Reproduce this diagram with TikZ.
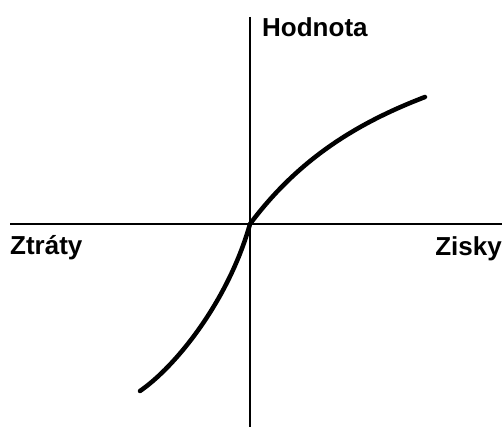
\documentclass[tikz,border=0pt]{standalone}
\usepackage{fontspec}
\setmainfont{Liberation Sans}
\usepackage{tikz}
\tikzset{
  every picture/.style={line cap=round, line join=round},
  lbl/.style={font=\bfseries\fontsize{26}{30}\selectfont, text=black, inner sep=0pt},
  axisline/.style={black, line width=2pt, line cap=butt},
  valuecurve/.style={black, line width=4.5pt},
}

\begin{document}
\begin{tikzpicture}[x=1pt, y=1pt]
\useasboundingbox (0,0) rectangle (504,427);
% axes
\coordinate (xl) at (10,203);
\coordinate (xr) at (502,203);
\coordinate (yt) at (250,410);
\coordinate (yb) at (250,0);
\coordinate (o) at (250,203);
\draw[axisline] (xl) -- (xr);
\draw[axisline] (yt) -- (yb);
% labels
\node[lbl, anchor=base west] (hodnota) at (262,390) {Hodnota};
\node[lbl, anchor=base west] (ztraty) at (10,172) {Ztráty};
\node[lbl, anchor=base east] (zisky) at (502,171) {Zisky};
% value function: losses, then gains
\coordinate (lossend) at (140,36);
\coordinate (gainend) at (425,330);
\draw[valuecurve] (lossend) .. controls (175,60) and (228,125) .. (o)
  .. controls (300,270) and (360,305) .. (gainend);
\end{tikzpicture}
\end{document}
